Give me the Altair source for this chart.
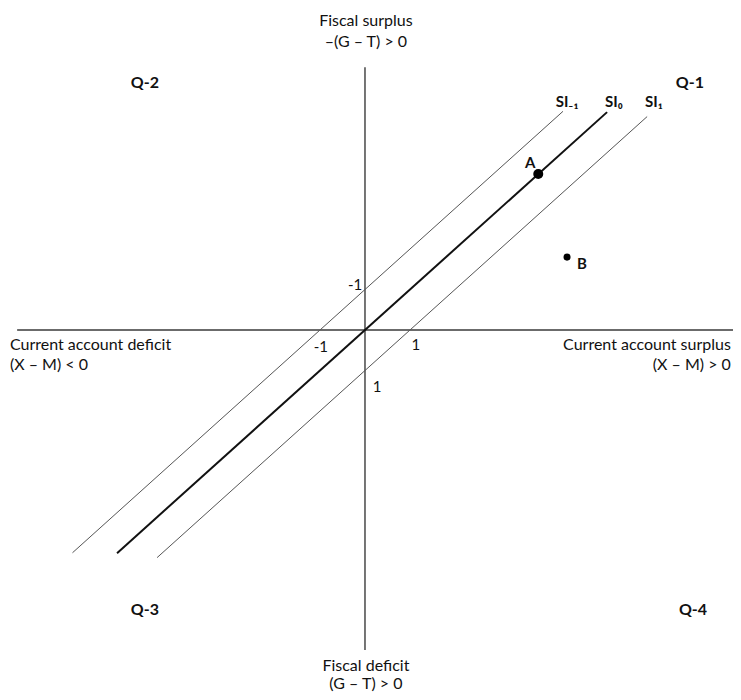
import altair as alt
import pandas as pd

FONT = "Lato"

# ---- data (diagram coordinates: 1 unit = one step on the axes) ----
# axes
axis_x_start = [-7.73, 0.0]
axis_x_end = [8.18, 0.0]
axis_y_start = [0.0, 6.49]
axis_y_end = [0.0, -7.90]

# saving-investment lines (endpoints)
si_names = ["SI-1", "SI0", "SI1"]
si_x0 = [-6.50, -5.51, -4.62]
si_y0 = [-5.50, -5.51, -5.62]
si_x1 = [4.40, 5.38, 6.27]
si_y1 = [5.40, 5.38, 5.27]

# points
pt_names = ["A", "B"]
pt_x = [3.85, 4.49]
pt_y = [3.85, 1.80]
pt_size = [100, 50]

# labels
c_text = ["Fiscal surplus", "\u2013(G \u2013 T) > 0", "Fiscal deficit", "(G \u2013 T) > 0"]
c_x = [0.02, 0.02, 0.02, 0.02]
c_y = [7.62, 7.12, -8.30, -8.74]

tick_text = ["-1", "-1", "1", "1"]
tick_x = [-0.22, -0.98, 1.13, 0.27]
tick_y = [1.11, -0.42, -0.37, -1.41]

l_text = ["Current account deficit", "(X \u2013 M) < 0"]
l_x = [-7.89, -7.89]
l_y = [-0.38, -0.86]

r_text = ["Current account surplus", "(X \u2013 M) > 0"]
r_x = [8.13, 8.13]
r_y = [-0.38, -0.86]

q_text = ["Q-2", "Q-1", "Q-3", "Q-4"]
q_x = [-4.89, 7.22, -4.89, 7.29]
q_y = [6.10, 6.10, -6.91, -6.91]

b_text = ["SI\u208b\u2081", "SI\u2080", "SI\u2081", "A", "B"]
b_x = [4.49, 5.53, 6.42, 3.67, 4.82]
b_y = [5.63, 5.63, 5.63, 4.12, 1.63]

# ---- scales ----
xs = alt.Scale(domain=[-7.933, 8.178], nice=False, zero=False)
ys = alt.Scale(domain=[-8.938, 7.951], nice=False, zero=False)

axes_df = pd.DataFrame({"x": axis_x_start, "x2": axis_x_end, "y": axis_y_start, "y2": axis_y_end})
axes = alt.Chart(axes_df).mark_rule(color="#3a3a3a", strokeWidth=1.4).encode(
    x=alt.X("x:Q", scale=xs, axis=None),
    x2="x2:Q",
    y=alt.Y("y:Q", scale=ys, axis=None),
    y2="y2:Q",
)

si_df = pd.DataFrame({"name": si_names, "x": si_x0, "x2": si_x1, "y": si_y0, "y2": si_y1})
si_thin = alt.Chart(si_df).transform_filter("datum.name != 'SI0'").mark_rule(
    color="#555555", strokeWidth=1.0
).encode(
    x=alt.X("x:Q", scale=xs, axis=None), x2="x2:Q",
    y=alt.Y("y:Q", scale=ys, axis=None), y2="y2:Q",
)
si_main = alt.Chart(si_df).transform_filter("datum.name == 'SI0'").mark_rule(
    color="#111111", strokeWidth=2.0
).encode(
    x=alt.X("x:Q", scale=xs, axis=None), x2="x2:Q",
    y=alt.Y("y:Q", scale=ys, axis=None), y2="y2:Q",
)

pt_df = pd.DataFrame({"name": pt_names, "x": pt_x, "y": pt_y, "s": pt_size})
points = alt.Chart(pt_df).mark_circle(color="black", opacity=1).encode(
    x=alt.X("x:Q", scale=xs, axis=None),
    y=alt.Y("y:Q", scale=ys, axis=None),
    size=alt.Size("s:Q", scale=None, legend=None),
)


def text_layer(texts, xv, yv, align, weight, size):
    df = pd.DataFrame({"t": texts, "x": xv, "y": yv})
    return alt.Chart(df).mark_text(
        align=align, baseline="middle", font=FONT, fontSize=size,
        fontWeight=weight, color="#111111"
    ).encode(
        x=alt.X("x:Q", scale=xs, axis=None),
        y=alt.Y("y:Q", scale=ys, axis=None),
        text="t:N",
    )


chart = alt.layer(
    axes, si_thin, si_main, points,
    text_layer(c_text, c_x, c_y, "center", "normal", 16),
    text_layer(tick_text, tick_x, tick_y, "center", "normal", 15),
    text_layer(l_text, l_x, l_y, "left", "normal", 16),
    text_layer(r_text, r_x, r_y, "right", "normal", 16),
    text_layer(q_text, q_x, q_y, "center", "bold", 16),
    text_layer(b_text, b_x, b_y, "center", "bold", 15),
).properties(
    width=725, height=684, padding=0,
    autosize=alt.AutoSizeParams(type="none"),
    background="white",
).configure_view(stroke=None)

chart.save("out.html", embed_options={"renderer": "svg", "actions": False})
